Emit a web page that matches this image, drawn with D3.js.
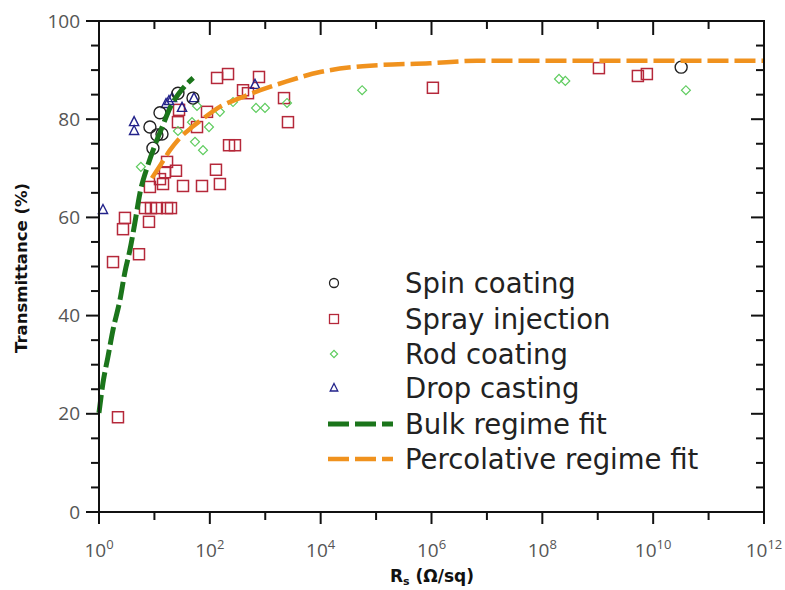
<!DOCTYPE html>
<html><head><meta charset="utf-8">
<script src="https://cdn.jsdelivr.net/npm/d3@7"></script>
<style>body{margin:0;background:#fff}svg{display:block}</style>
</head><body>
<svg id="c" width="785" height="590"></svg>
<script>
// ---- data (Rs in ohm/sq, T in %) ----
const spinRs = [8.3, 11.1, 13.7, 9.4, 12.6, 26.6, 49.7, 3.2e10];
const spinT  = [78.4, 76.8, 77.0, 74.1, 81.3, 85.3, 84.3, 90.6];

const sprayRs = [2.2, 1.79, 5.27, 2.94, 2.71, 7.98, 6.76, 8.67, 11.1, 16.9, 19.9, 8.3, 12.6, 14.3, 32.8, 72.2, 152, 129, 16.9, 15.5, 24.5, 222, 284, 27.8, 26.6, 58.7, 88.9, 135, 213, 397, 488, 771, 2180, 2570, 1.06e6, 1.05e9, 5.3e9, 7.7e9];
const sprayT  = [19.3, 50.9, 52.5, 59.9, 57.6, 59.1, 61.9, 61.9, 61.9, 61.9, 61.9, 66.2, 67.8, 66.8, 66.4, 66.4, 66.8, 69.7, 71.3, 69.2, 69.5, 74.7, 74.7, 81.9, 79.4, 78.4, 81.5, 88.4, 89.2, 85.9, 85.3, 88.6, 84.3, 79.4, 86.4, 90.4, 88.8, 89.2];

const rodRs = [5.7, 26.6, 47.7, 54.0, 75.3, 96.6, 58.7, 152, 262, 681, 989, 2470, 5.6e4, 2.0e8, 2.6e8, 3.9e10];
const rodT  = [70.3, 77.6, 79.4, 75.4, 73.7, 78.4, 82.7, 81.5, 83.5, 82.3, 82.3, 83.3, 85.9, 88.2, 87.8, 85.9];

const dropRs = [1.18, 4.3, 4.3, 16.2, 18.3, 20.8, 31.5, 51.8, 653];
const dropT  = [61.5, 79.4, 77.6, 83.1, 83.7, 84.3, 82.3, 84.3, 87.0];

const bulkRs = [1, 1.18, 1.45, 1.79, 2.39, 2.94, 3.62, 4.47, 5.50, 7.66, 10.2, 13.8, 19.1, 28.8, 50.0];
const bulkT  = [20.2, 26.3, 31.6, 37.1, 43.2, 48.9, 53.4, 59.1, 65.0, 70.7, 74.7, 78.4, 82.3, 85.5, 88.4];

const percRs = [9.0, 12.6, 19.1, 28.8, 47.9, 81.3, 151, 347, 813, 2290, 9770, 5.75e4, 9.33e5, 6.61e6, 1e12];
const percT  = [68.0, 70.5, 73.7, 76.2, 78.4, 80.4, 82.5, 84.3, 85.9, 87.6, 89.6, 90.8, 91.4, 91.9, 91.9];

const xTickExp = [0, 2, 4, 6, 8, 10, 12];
const xMinorExp = [1, 3, 5, 7, 9, 11];
const yTicks = [0, 20, 40, 60, 80, 100];
const yMinor = [5, 10, 15, 25, 30, 35, 45, 50, 55, 65, 70, 75, 85, 90, 95];

const legendLabels = ["Spin coating", "Spray injection", "Rod coating", "Drop casting", "Bulk regime fit", "Percolative regime fit"];

// ---- drawing ----
const svg = d3.select("#c");
svg.append("rect").attr("width", 785).attr("height", 590).attr("fill", "#fff");
const L = 99, R = 764, T = 21, B = 512;
const x = d3.scaleLog().domain([1, 1e12]).range([L, R]);
const y = d3.scaleLinear().domain([0, 100]).range([B, T]);
const font = "'Open Sans', 'DejaVu Sans', sans-serif";
const lfont = "'DejaVu Sans', sans-serif";

const col = {spin: "#222", spray: "#b5283a", rod: "#5fcc5f", drop: "#22228a", bulk: "#1b751b", perc: "#f0921e"};

// markers
const g = svg.append("g");
g.selectAll(".sp").data(d3.zip(sprayRs, sprayT)).enter().append("rect")
  .attr("x", d => x(d[0]) - 5.5).attr("y", d => y(d[1]) - 5.5)
  .attr("width", 11).attr("height", 11)
  .attr("fill", "none").attr("stroke", col.spray).attr("stroke-width", 1.5);
g.selectAll(".rd").data(d3.zip(rodRs, rodT)).enter().append("path")
  .attr("d", d3.symbol().type(d3.symbolSquare).size(40)())
  .attr("transform", d => `translate(${x(d[0])},${y(d[1])}) rotate(45)`)
  .attr("fill", "none").attr("stroke", col.rod).attr("stroke-width", 1.2);
g.selectAll(".dr").data(d3.zip(dropRs, dropT)).enter().append("path")
  .attr("d", "M0,-5.5L4.6,3.5L-4.6,3.5Z")
  .attr("transform", d => `translate(${x(d[0])},${y(d[1])})`)
  .attr("fill", "none").attr("stroke", col.drop).attr("stroke-width", 1.4);
g.selectAll(".sc").data(d3.zip(spinRs, spinT)).enter().append("circle")
  .attr("cx", d => x(d[0])).attr("cy", d => y(d[1])).attr("r", 6)
  .attr("fill", "none").attr("stroke", col.spin).attr("stroke-width", 1.4);

// fit lines
const line = d3.line().x(d => x(d[0])).y(d => y(d[1])).curve(d3.curveMonotoneX);
svg.append("path").datum(d3.zip(percRs, percT)).attr("d", line)
  .attr("fill", "none").attr("stroke", col.perc).attr("stroke-width", 4.5).attr("stroke-dasharray", "21,6");
svg.append("path").datum(d3.zip(bulkRs, bulkT)).attr("d", line)
  .attr("fill", "none").attr("stroke", col.bulk).attr("stroke-width", 5).attr("stroke-dasharray", "18,5");

// frame
const ax = svg.append("g").attr("stroke", "#111").attr("stroke-width", 2);
ax.append("rect").attr("x", L).attr("y", T).attr("width", R - L).attr("height", B - T).attr("fill", "none");
xTickExp.forEach(e => {
  const xx = x(Math.pow(10, e));
  ax.append("line").attr("x1", xx).attr("x2", xx).attr("y1", B).attr("y2", B + 12);
  ax.append("line").attr("x1", xx).attr("x2", xx).attr("y1", T).attr("y2", T + 14);
});
xMinorExp.forEach(e => {
  const xx = x(Math.pow(10, e));
  ax.append("line").attr("x1", xx).attr("x2", xx).attr("y1", B).attr("y2", B + 8);
  ax.append("line").attr("x1", xx).attr("x2", xx).attr("y1", T).attr("y2", T + 8);
});
yTicks.forEach(v => {
  ax.append("line").attr("x1", L - 13).attr("x2", L).attr("y1", y(v)).attr("y2", y(v));
  ax.append("line").attr("x1", R - 13).attr("x2", R).attr("y1", y(v)).attr("y2", y(v));
});
yMinor.forEach(v => {
  ax.append("line").attr("x1", L - 8).attr("x2", L).attr("y1", y(v)).attr("y2", y(v));
  ax.append("line").attr("x1", R - 8).attr("x2", R).attr("y1", y(v)).attr("y2", y(v));
});

// tick labels
yTicks.forEach(v => {
  svg.append("text").attr("x", 80).attr("y", y(v)).attr("dy", "0.35em")
    .attr("text-anchor", "end").attr("font-family", font).attr("font-size", 19).attr("fill", "#555").text(v);
});
xTickExp.forEach(e => {
  const t = svg.append("text").attr("x", x(Math.pow(10, e))).attr("y", 557)
    .attr("text-anchor", "middle").attr("font-family", font).attr("font-size", 19).attr("fill", "#555");
  t.append("tspan").text("10");
  t.append("tspan").attr("dy", -8).attr("font-size", 13).text(e);
});

// axis titles
svg.append("text").attr("transform", "translate(27,268) rotate(-90)").attr("text-anchor", "middle")
  .attr("font-family", lfont).attr("font-weight", "bold").attr("font-size", 16.5).attr("fill", "#111").text("Transmittance (%)");
const xt = svg.append("text").attr("x", 432).attr("y", 582).attr("text-anchor", "middle")
  .attr("font-family", lfont).attr("font-weight", "bold").attr("font-size", 17).attr("fill", "#111");
xt.append("tspan").text("R");
xt.append("tspan").attr("font-size", 11).attr("dy", 3).text("s");
xt.append("tspan").attr("dy", -3).text(" (Ω/sq)");

// legend
const lg = svg.append("g");
const ly = [283, 319, 354, 388, 424, 459];
const lx = 334;
lg.append("circle").attr("cx", lx).attr("cy", ly[0]).attr("r", 4.5).attr("fill", "none").attr("stroke", col.spin).attr("stroke-width", 1.3);
lg.append("rect").attr("x", lx - 4.5).attr("y", ly[1] - 4.5).attr("width", 9).attr("height", 9).attr("fill", "none").attr("stroke", col.spray).attr("stroke-width", 1.3);
lg.append("path").attr("d", d3.symbol().type(d3.symbolSquare).size(26)()).attr("transform", `translate(${lx},${ly[2]}) rotate(45)`).attr("fill", "none").attr("stroke", col.rod).attr("stroke-width", 1.2);
lg.append("path").attr("d", "M0,-4.5L3.8,3L-3.8,3Z").attr("transform", `translate(${lx},${ly[3]})`).attr("fill", "none").attr("stroke", col.drop).attr("stroke-width", 1.3);
lg.append("line").attr("x1", 328).attr("x2", 393).attr("y1", ly[4]).attr("y2", ly[4]).attr("stroke", col.bulk).attr("stroke-width", 5).attr("stroke-dasharray", "21,6");
lg.append("line").attr("x1", 328).attr("x2", 393).attr("y1", ly[5]).attr("y2", ly[5]).attr("stroke", col.perc).attr("stroke-width", 4.5).attr("stroke-dasharray", "21,6");
legendLabels.forEach((s, i) => {
  lg.append("text").attr("x", 405).attr("y", ly[i]).attr("dy", "0.36em")
    .attr("font-family", lfont).attr("font-size", 27.5).attr("fill", "#222").text(s);
});
</script>
</body></html>
